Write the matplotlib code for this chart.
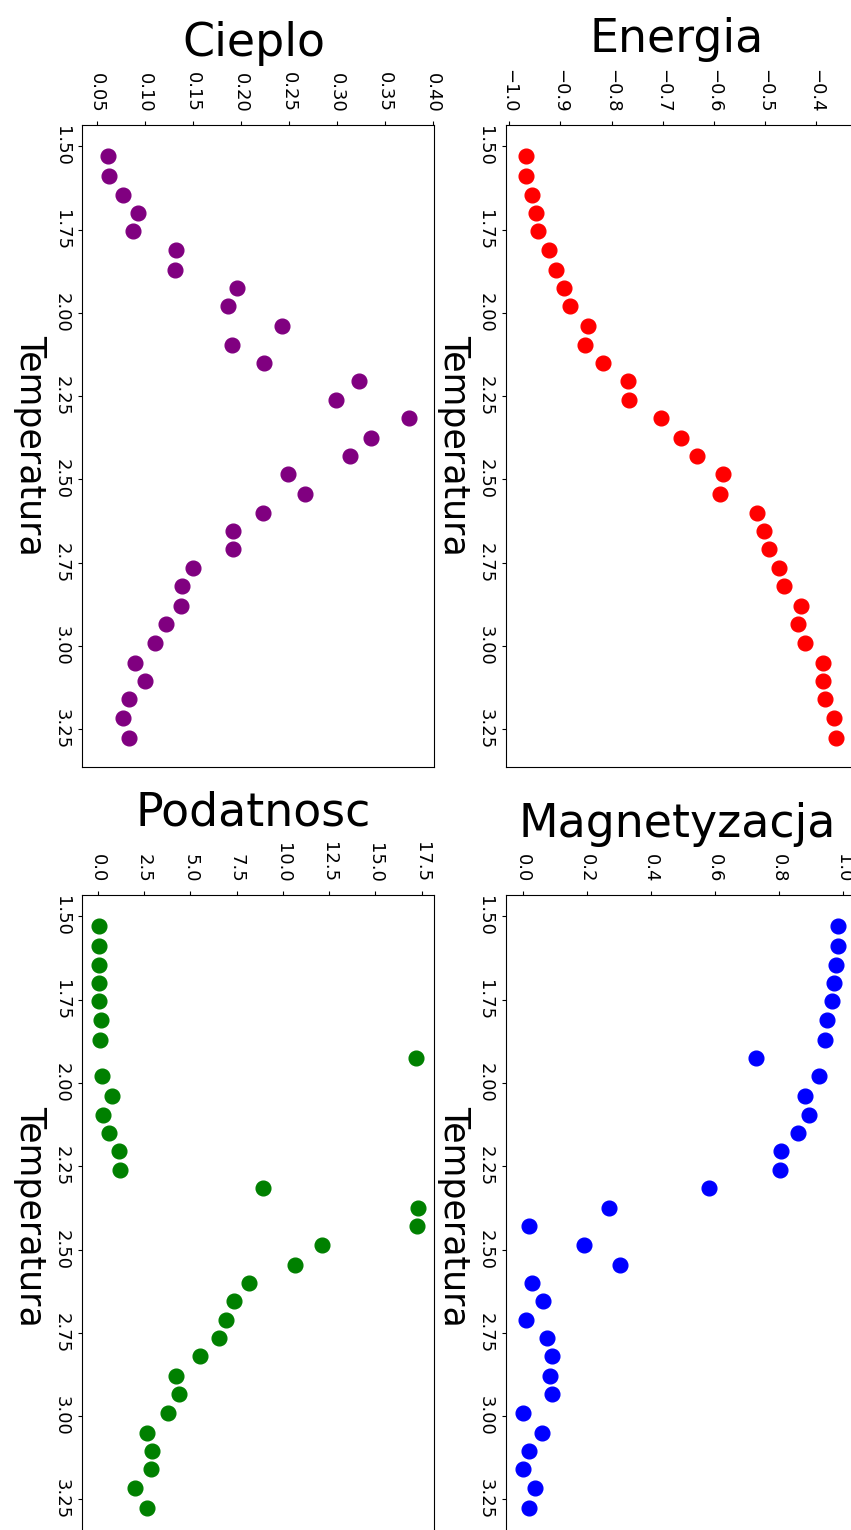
"""
Wykresy wielkosci termodynamicznych w funkcji temperatury.

Cztery panele (Energia, Cieplo, Magnetyzacja, Podatnosc), temperatura
na osi pionowej (rosnaco w dol), wartosci na osi poziomej u gory.
"""
import matplotlib
matplotlib.use("Agg")
import matplotlib.pyplot as plt
from matplotlib.ticker import MultipleLocator

# -----------------------------------------------------------------------------
# Dane
# -----------------------------------------------------------------------------
temperatura = [1.53, 1.59, 1.645, 1.70, 1.755, 1.81, 1.87, 1.925, 1.98, 2.04,
               2.095, 2.15, 2.205, 2.26, 2.315, 2.375, 2.43, 2.485, 2.545, 2.60,
               2.655, 2.71, 2.765, 2.82, 2.88, 2.935, 2.99, 3.05, 3.105, 3.16,
               3.215, 3.275]

energia = [-0.967, -0.967, -0.956, -0.948, -0.943, -0.923, -0.909, -0.893,
           -0.881, -0.846, -0.852, -0.816, -0.769, -0.767, -0.704, -0.665,
           -0.633, -0.583, -0.588, -0.516, -0.502, -0.493, -0.474, -0.463,
           -0.430, -0.436, -0.422, -0.387, -0.387, -0.384, -0.366, -0.362]

cieplo = [0.061, 0.062, 0.077, 0.093, 0.087, 0.132, 0.131, 0.196, 0.186,
          0.243, 0.191, 0.224, 0.323, 0.299, 0.375, 0.335, 0.313, 0.249,
          0.266, 0.223, 0.192, 0.192, 0.150, 0.139, 0.137, 0.122, 0.110,
          0.090, 0.100, 0.083, 0.077, 0.083]

magnetyzacja = [0.984, 0.984, 0.979, 0.972, 0.967, 0.952, 0.945, 0.730,
                0.927, 0.883, 0.896, 0.860, 0.808, 0.804, 0.581, 0.271,
                0.021, 0.191, 0.305, 0.030, 0.064, 0.011, 0.077, 0.092,
                0.085, 0.092, 0.002, 0.060, 0.021, 0.002, 0.039, 0.021]

podatnosc = [0.07, 0.07, 0.07, 0.07, 0.07, 0.20, 0.14, 17.17, 0.23, 0.76,
             0.30, 0.59, 1.15, 1.20, 8.93, 17.30, 17.22, 12.09, 10.65, 8.15,
             7.34, 6.95, 6.57, 5.52, 4.25, 4.39, 3.78, 2.65, 2.95, 2.86,
             2.03, 2.65]


def draw_panel(fig, rect, values, color, title, xlim, step):
    """One scatter panel: value axis on top, temperature axis going down."""
    ax = fig.add_axes(rect)
    ax.scatter(values, temperatura, s=112, color=color, zorder=3)

    ax.set_xlim(*xlim)
    ax.set_ylim(3.362, 1.436)  # inverted: low temperature at the top
    ax.xaxis.set_major_locator(MultipleLocator(step))
    ax.yaxis.set_major_locator(MultipleLocator(0.25))

    ax.xaxis.tick_top()
    ax.tick_params(axis="x", labelrotation=-90, labelsize=13, pad=6,
                   length=3.1)
    ax.tick_params(axis="y", labelrotation=-90, labelsize=13, pad=5,
                   length=3.1)
    for lab in ax.get_yticklabels():
        lab.set_va("center")

    ax.set_ylabel("Temperatura", fontsize=25, rotation=-90, va="top",
                  labelpad=4)
    ax.set_title(title, fontsize=33, pad=12, x=0.487)
    return ax


def main():
    fig = plt.figure(figsize=(8.51, 15.30), dpi=100)

    w, h = 0.4133, 0.4194
    draw_panel(fig, [0.0967, 0.4989, w, h], cieplo, "purple", "Cieplo",
               (0.0347, 0.4008), 0.05)
    draw_panel(fig, [0.5942, 0.4989, w, h], energia, "red", "Energia",
               (-1.007, -0.320), 0.1)
    draw_panel(fig, [0.0967, -0.0044, w, h], podatnosc, "green", "Podatnosc",
               (-0.83, 18.16), 2.5)
    draw_panel(fig, [0.5942, -0.0044, w, h], magnetyzacja, "blue",
               "Magnetyzacja", (-0.053, 1.046), 0.2)

    fig.savefig("out.png", dpi=100)


if __name__ == "__main__":
    main()
